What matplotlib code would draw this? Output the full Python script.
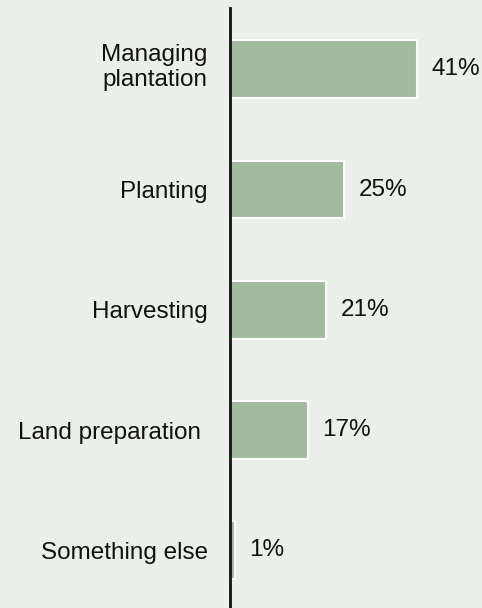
import matplotlib.pyplot as plt
import matplotlib.transforms as mtransforms

plt.rcParams['font.family'] = ['Liberation Sans', 'DejaVu Sans']

categories = ['Managing\nplantation', 'Planting', 'Harvesting', 'Land preparation ', 'Something else']
shares = [41, 25, 21, 17, 1]

bg = '#ebefe9'
bar_color = '#a2bb9f'

fig = plt.figure(figsize=(4.82, 6.08), dpi=100, facecolor=bg)
ax = fig.add_axes([230 / 482, 0, 252 / 482, 600 / 608])
ax.set_facecolor(bg)

ypos = range(len(categories))
ax.barh(ypos, shares, height=0.48, color=bar_color, edgecolor='white', linewidth=1.5)

for y, v in zip(ypos, shares):
    ax.text(v + 3.2, y, f'{v}%', va='center', ha='left', fontsize=17.5, color='#111111')

ax.set_yticks(list(ypos))
ax.set_yticklabels(categories, fontsize=17.5, color='#111111')
ax.tick_params(axis='y', length=0, pad=16)

# nudge the two-line label up a little so it sits centred on its bar
lift = mtransforms.ScaledTranslation(0, 6 / 100, fig.dpi_scale_trans)
for lbl in ax.get_yticklabels():
    if '\n' in lbl.get_text():
        lbl.set_transform(lbl.get_transform() + lift)

ax.set_xticks([])
ax.set_xlim(0, 252 / 4.56)
ax.set_ylim(4.48, -0.51)

for side in ['top', 'right', 'bottom']:
    ax.spines[side].set_visible(False)
ax.spines['left'].set_linewidth(2)
ax.spines['left'].set_color('#111111')

fig.savefig('out.png', dpi=100, facecolor=bg)
